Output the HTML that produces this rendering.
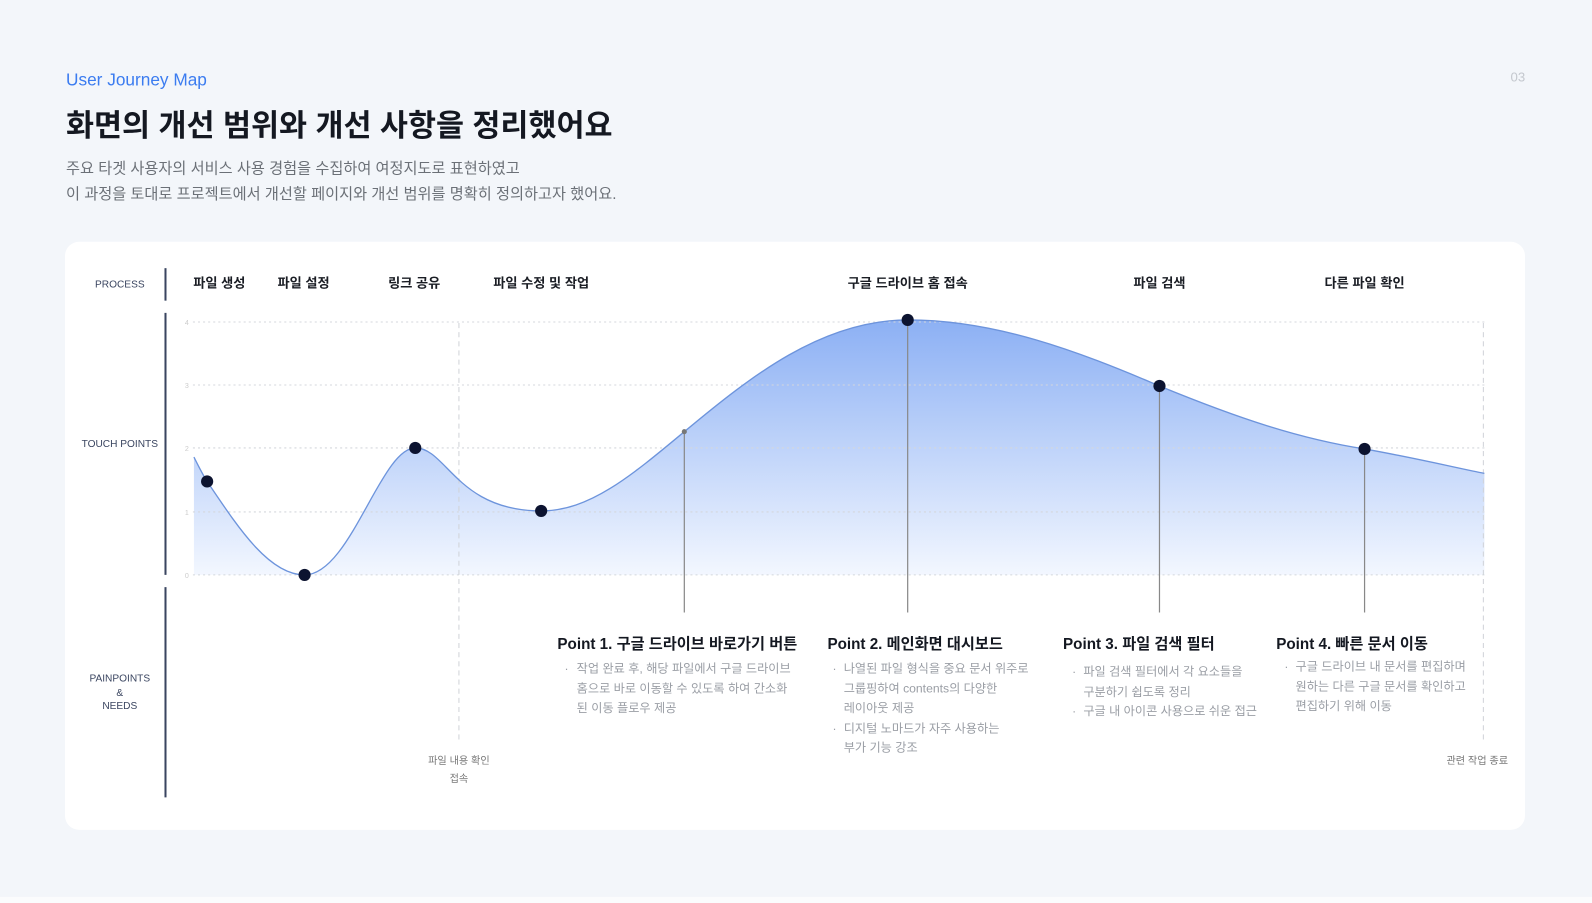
<!DOCTYPE html>
<html><head><meta charset="utf-8"><style>
html,body{margin:0;padding:0;background:#f3f6fa;}
svg{display:block;}
text{font-family:"Liberation Sans","Noto Sans CJK KR",sans-serif;}
</style></head><body>
<svg width="1592" height="903" viewBox="0 0 1568 889" preserveAspectRatio="none" xmlns="http://www.w3.org/2000/svg">
<defs>
<linearGradient id="g" gradientUnits="userSpaceOnUse" x1="0" y1="315" x2="0" y2="570">
<stop offset="0" stop-color="#8cb0f4"/><stop offset="1" stop-color="#f4f8ff"/>
</linearGradient>
</defs>
<rect width="1568" height="889" fill="#f3f6fa"/>
<rect y="883" width="1568" height="6" fill="#fbfcfd"/>
<text x="65" y="84" font-size="17" fill="#3b7cf0" font-weight="500">User Journey Map</text>
<text x="1495" y="80" font-size="13" fill="#c4c8ce" text-anchor="middle">03</text>
<text x="65" y="134" font-size="30" font-weight="bold" fill="#141821">화면의 개선 범위와 개선 사항을 정리했어요</text>
<text x="65" y="171" font-size="15" fill="#6b7077">주요 타겟 사용자의 서비스 사용 경험을 수집하여 여정지도로 표현하였고</text>
<text x="65" y="196" font-size="15" fill="#6b7077">이 과정을 토대로 프로젝트에서 개선할 페이지와 개선 범위를 명확히 정의하고자 했어요.</text>
<rect x="64" y="238" width="1438" height="579" rx="14" fill="#fff"/>
<g stroke="#3a4560" stroke-width="2">
<line x1="163" y1="264" x2="163" y2="296"/><line x1="163" y1="308" x2="163" y2="566"/><line x1="163" y1="578" x2="163" y2="785"/>
</g>
<g font-size="10" fill="#3a4560" text-anchor="middle" font-weight="500">
<text x="118" y="283">PROCESS</text><text x="118" y="440">TOUCH POINTS</text>
<text x="118" y="671">PAINPOINTS</text><text x="118" y="685">&amp;</text><text x="118" y="698">NEEDS</text>
</g>
<g font-size="13" font-weight="bold" fill="#1a1d24" text-anchor="middle">
<text x="216" y="283">파일 생성</text><text x="299" y="283">파일 설정</text><text x="408" y="283">링크 공유</text>
<text x="533" y="283">파일 수정 및 작업</text><text x="894" y="283">구글 드라이브 홈 접속</text>
<text x="1142" y="283">파일 검색</text><text x="1344" y="283">다른 파일 확인</text>
</g>
<path d="M191,450 C196,460 200,468 204,474 C235,520 265,566 300,566 C345,566 375,441 409,441 C440,441 450,503 533,503 C580,503 620,470 674,425 C740,370 810,315 894,315 C980,315 1060,345 1142,380 C1220,412 1280,432 1344,442 C1400,452 1440,462 1462,466 L1462,566 L191,566 Z" fill="url(#g)"/>
<g stroke="#d4d7dc" stroke-width="1" stroke-dasharray="2,3">
<line x1="190" y1="317" x2="1462" y2="317"/><line x1="190" y1="379" x2="1462" y2="379"/>
<line x1="190" y1="441" x2="1462" y2="441"/><line x1="190" y1="504" x2="1462" y2="504"/>
<line x1="190" y1="566" x2="1462" y2="566"/>
</g>
<g font-size="7" fill="#ccc" text-anchor="middle">
<text x="184" y="320">4</text><text x="184" y="382">3</text><text x="184" y="444">2</text><text x="184" y="507">1</text><text x="184" y="569">0</text>
</g>
<g stroke="#d0d3d8" stroke-dasharray="5,4"><line x1="452" y1="318" x2="452" y2="730"/><line x1="1461" y1="318" x2="1461" y2="730"/></g>
<path d="M191,450 C196,460 200,468 204,474 C235,520 265,566 300,566 C345,566 375,441 409,441 C440,441 450,503 533,503 C580,503 620,470 674,425 C740,370 810,315 894,315 C980,315 1060,345 1142,380 C1220,412 1280,432 1344,442 C1400,452 1440,462 1462,466" fill="none" stroke="#6d94dc" stroke-width="1.3"/>
<g stroke="#888" stroke-width="1.2"><line x1="674" y1="425" x2="674" y2="603"/><line x1="894" y1="315" x2="894" y2="603"/><line x1="1142" y1="380" x2="1142" y2="603"/><line x1="1344" y1="442" x2="1344" y2="603"/></g>
<g fill="#0c1330"><circle cx="204" cy="474" r="6"/><circle cx="300" cy="566" r="6"/><circle cx="409" cy="441" r="6"/><circle cx="533" cy="503" r="6"/><circle cx="674" cy="425" r="2.5" fill="#777"/><circle cx="894" cy="315" r="6"/><circle cx="1142" cy="380" r="6"/><circle cx="1344" cy="442" r="6"/></g>
<g font-size="15" font-weight="bold" fill="#141821">
<text x="549" y="639">Point 1. 구글 드라이브 바로가기 버튼</text><text x="815" y="639">Point 2. 메인화면 대시보드</text>
<text x="1047" y="639">Point 3. 파일 검색 필터</text><text x="1257" y="639">Point 4. 빠른 문서 이동</text>
</g>
<g font-size="12" fill="#9a9ea5">
<text x="556" y="662">·</text><text x="568" y="662">작업 완료 후, 해당 파일에서 구글 드라이브</text><text x="568" y="682">홈으로 바로 이동할 수 있도록 하여 간소화</text><text x="568" y="701">된 이동 플로우 제공</text>
<text x="820" y="662">·</text><text x="831" y="662">나열된 파일 형식을 중요 문서 위주로</text><text x="831" y="682">그룹핑하여 contents의 다양한</text><text x="831" y="701">레이아웃 제공</text>
<text x="820" y="721">·</text><text x="831" y="721">디지털 노마드가 자주 사용하는</text><text x="831" y="740">부가 기능 강조</text>
<text x="1056" y="665">·</text><text x="1067" y="665">파일 검색 필터에서 각 요소들을</text><text x="1067" y="685">구분하기 쉽도록 정리</text>
<text x="1056" y="704">·</text><text x="1067" y="704">구글 내 아이콘 사용으로 쉬운 접근</text>
<text x="1265" y="660">·</text><text x="1276" y="660">구글 드라이브 내 문서를 편집하며</text><text x="1276" y="680">원하는 다른 구글 문서를 확인하고</text><text x="1276" y="699">편집하기 위해 이동</text>
</g>
<g font-size="10" fill="#777" text-anchor="middle">
<text x="452" y="752">파일 내용 확인</text><text x="452" y="770">접속</text><text x="1455" y="752">관련 작업 종료</text>
</g>
</svg>
</body></html>
